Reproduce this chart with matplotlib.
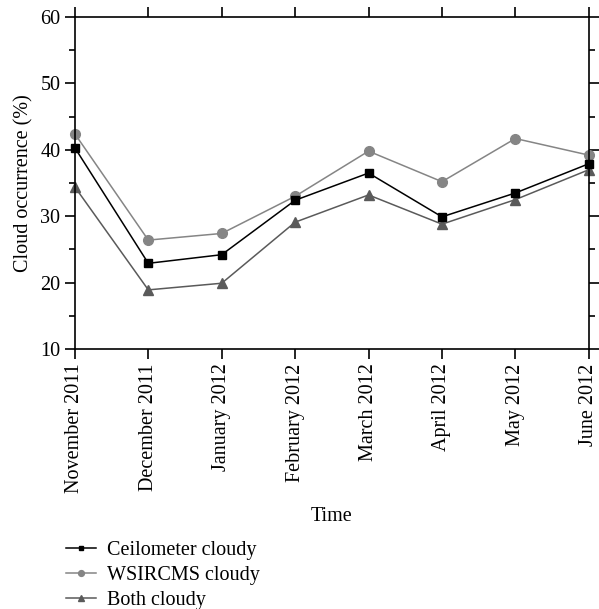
import matplotlib.pyplot as plt
from matplotlib.ticker import MultipleLocator

plt.rcParams['font.family'] = ['Liberation Serif', 'DejaVu Serif']

months = ['November 2011', 'December 2011', 'January 2012', 'February 2012',
          'March 2012', 'April 2012', 'May 2012', 'June 2012']
ceilometer = [40.3, 22.9, 24.2, 32.4, 36.5, 29.9, 33.5, 37.9]
wsircms = [42.4, 26.4, 27.4, 33.0, 39.8, 35.2, 41.7, 39.2]
both = [34.4, 18.9, 19.9, 29.1, 33.2, 28.8, 32.5, 37.0]

fig = plt.figure(figsize=(5.99, 6.09), dpi=100)
ax = fig.add_axes([0.125, 0.427, 0.858, 0.545])

x = range(len(months))
ax.plot(x, ceilometer, color='black', marker='s', markersize=6, lw=1.1, label='Ceilometer cloudy', clip_on=False, zorder=3)
ax.plot(x, wsircms, color='#858585', marker='o', markersize=7, lw=1.1, label='WSIRCMS cloudy', clip_on=False, zorder=2)
ax.plot(x, both, color='#5a5a5a', marker='^', markersize=7.5, lw=1.1, label='Both cloudy', clip_on=False, zorder=2)

ax.set_xlim(0, len(months) - 1)
ax.set_ylim(10, 60)
ax.set_xticks(list(x))
ax.set_xticklabels(months, rotation=90, fontsize=14.5)
ax.yaxis.set_major_locator(MultipleLocator(10))
ax.yaxis.set_minor_locator(MultipleLocator(5))
ax.tick_params(axis='both', which='major', direction='out', length=7, width=1.2,
               top=True, right=True, labelsize=14.5)
ax.tick_params(axis='y', which='minor', direction='out', length=4, width=1.2, right=True)
for s in ax.spines.values():
    s.set_linewidth(1.2)

ax.set_xlabel('Time', fontsize=14.5, labelpad=10)
ax.set_ylabel('Cloud occurrence (%)', fontsize=14.5, labelpad=5)

fig.legend(loc='upper left', bbox_to_anchor=(0.097, 0.125), bbox_transform=fig.transFigure,
           frameon=False, fontsize=14.5, handlelength=1.5, handletextpad=0.55,
           labelspacing=0.3, borderaxespad=0, markerscale=0.6)

plt.savefig('out.png', dpi=100)
